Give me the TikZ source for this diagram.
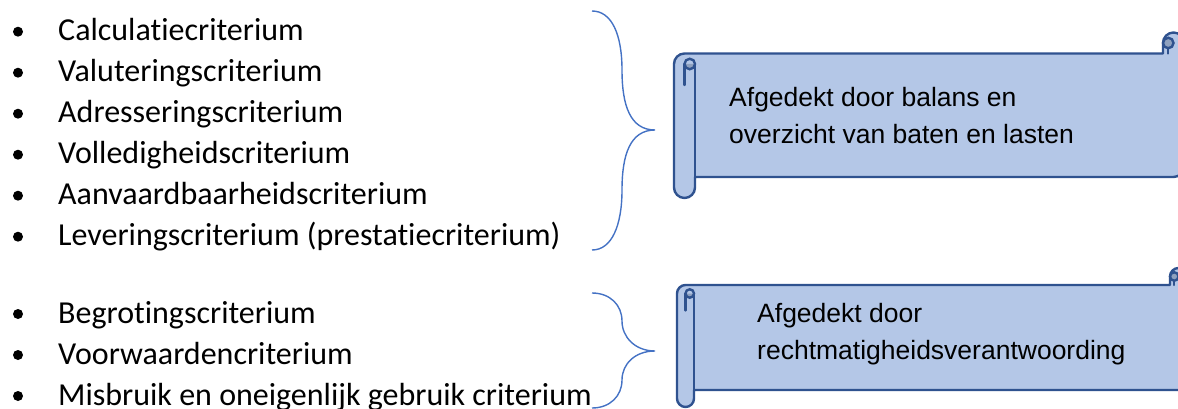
\documentclass[tikz,border=0pt]{standalone}
\usepackage{fontspec}
\newfontfamily\listfont[Ligatures=NoCommon]{Carlito}
\newfontfamily\scrollfont{Liberation Sans}
\definecolor{scrollfill}{HTML}{B4C7E7}
\definecolor{scrollline}{HTML}{2F528F}
\definecolor{scrolldark}{HTML}{8FA1BF}
\definecolor{bracecol}{HTML}{4472C4}
\tikzset{
  scrollbody/.style={fill=scrollfill, draw=scrollline, line width=2.4pt, line join=round},
  scrolledge/.style={draw=scrollline, line width=2.4pt, line cap=round},
  bracepath/.style={draw=bracecol, line width=1.4pt},
  item/.style={anchor=base west, inner sep=0pt, font=\listfont\fontsize{32}{41}\selectfont},
  bulletdot/.style={circle, fill=black, inner sep=0pt, minimum size=10pt},
  scrolltext/.style={anchor=base west, inner sep=0pt, font=\scrollfont\fontsize{26.5}{37}\selectfont}
}
% #1 left, #2 top, #3 right, #4 bottom, #5 roll diameter
\newcommand\drawscroll[5]{%
  \pgfmathsetmacro\scH{#5/2}%
  \pgfmathsetmacro\scQ{#5/4}%
  \filldraw[scrollbody] (#1,#2+#5+\scH) arc (180:270:\scH) -- (#3-#5,#2+#5) -- (#3-#5,#2+\scH)
     arc (180:360:\scH) -- (#3,#4-#5-\scH) arc (0:90:\scH) -- (#1+#5,#4-#5) -- (#1+#5,#4-\scH)
     arc (0:180:\scH) -- cycle;
  \draw[scrolledge] (#1+#5,#2+#5+\scH) -- (#1+#5,#4-#5);
  \fill[scrolldark] (#1+#5,#2+#5+\scH) arc (0:180:\scQ) -- cycle;
  \draw[scrolledge] (#1+\scH+\scQ,#2+#5+\scH) circle (\scQ);
  \draw[scrolledge] (#1+\scH,#2+#5+\scH) -- (#1+\scH,#2+2*#5+\scH);
  \filldraw[fill=scrolldark, draw=scrollline, line width=2.4pt] (#3-#5+\scQ,#2+\scH) circle (\scQ);
  \draw[scrolledge] (#3-#5+\scQ,#2+\scH+\scQ) -- (#3-#5+\scQ,#2+#5);
}
\begin{document}
\begin{tikzpicture}[x=1pt,y=-1pt]
\useasboundingbox (0,0) rectangle (1178,409);
\clip (0,0) rectangle (1178,409);

% list items
\foreach \t [count=\i from 0] in {Calculatiecriterium,Valuteringscriterium,Adresseringscriterium,Volledigheidscriterium,Aanvaardbaarheidscriterium,Leveringscriterium (prestatiecriterium)}{
  \pgfmathsetmacro\yb{40.7+41*\i}
  \node[bulletdot] (d\i) at (18,\yb-9) {};
  \node[item] (l\i) at (58,\yb) {\t};
}
\foreach \t/\yb [count=\i from 6] in {Begrotingscriterium/323,Voorwaardencriterium/364,Misbruik en oneigenlijk gebruik criterium/405}{
  \node[bulletdot] (d\i) at (18,\yb-9) {};
  \node[item] (l\i) at (58,\yb) {\t};
}

% scrolls
\drawscroll{674}{32.5}{1184}{198}{21}
\drawscroll{677}{268}{1187}{407}{17}

\node[scrolltext] (t1) at (729,106.5) {\begin{tabular}[t]{@{}l@{}}Afgedekt door balans en\\overzicht van baten en lasten\end{tabular}};
\node[scrolltext] (t2) at (757,322.5) {\begin{tabular}[t]{@{}l@{}}Afgedekt door\\rechtmatigheidsverantwoording\end{tabular}};

% braces
\coordinate (b1t) at (592,11);
\coordinate (b1u) at (622,70);
\coordinate (b1m) at (655,130);
\coordinate (b1l) at (622,190);
\coordinate (b1b) at (592,250);
\draw[bracepath] (b1t) .. controls +(20,0) and +(0,-35) .. (b1u)
  .. controls +(0,35) and +(-25,0) .. (b1m)
  .. controls +(-25,0) and +(0,-35) .. (b1l)
  .. controls +(0,35) and +(20,0) .. (b1b);

\coordinate (b2t) at (592,293);
\coordinate (b2u) at (622,321);
\coordinate (b2m) at (655,351);
\coordinate (b2l) at (622,380);
\coordinate (b2b) at (592,408);
\draw[bracepath] (b2t) .. controls +(18,0) and +(0,-16) .. (b2u)
  .. controls +(0,16) and +(-20,0) .. (b2m)
  .. controls +(-20,0) and +(0,-16) .. (b2l)
  .. controls +(0,16) and +(18,0) .. (b2b);
\end{tikzpicture}
\end{document}
